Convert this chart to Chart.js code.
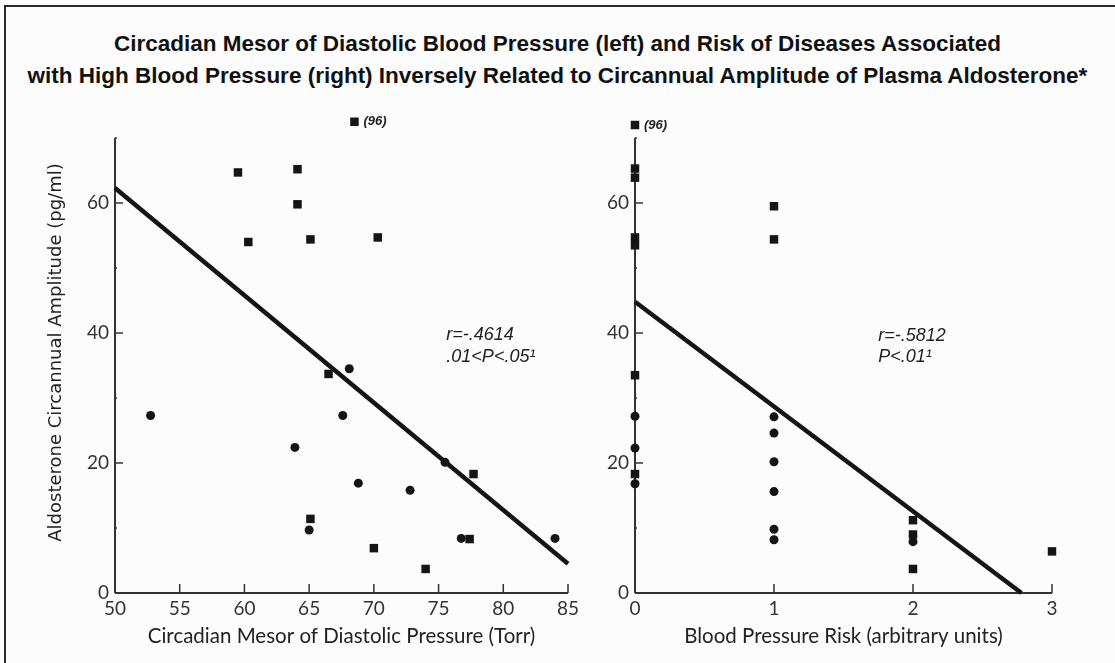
<!DOCTYPE html>
<html>
<head>
<meta charset="utf-8">
<script src="https://cdn.jsdelivr.net/npm/chart.js@4.4.1/dist/chart.umd.min.js"></script>
<style>
  html, body { margin: 0; padding: 0; background: #fcfcfc; }
  #page { position: relative; width: 1115px; height: 663px; overflow: hidden; background: #fcfcfc; }
  #frame { position: absolute; left: 4px; top: 5px; width: 1200px; height: 700px;
           border-top: 2px solid #2a2a2a; border-left: 2px solid #2a2a2a; }
  .title { position: absolute; left: 0; width: 1115px; text-align: center; color: #111;
           font: bold 22.5px 'Liberation Sans', Arial, sans-serif; }
  canvas { position: absolute; }
</style>
</head>
<body>
<div id="page">
  <div id="frame"></div>
  <div class="title" style="top:31px">Circadian Mesor of Diastolic Blood Pressure (left) and Risk of Diseases Associated</div>
  <div class="title" style="top:63px">with High Blood Pressure (right) Inversely Related to Circannual Amplitude of Plasma Aldosterone*</div>
  <canvas id="leftChart" width="590" height="563" style="left:0; top:100px"></canvas>
  <canvas id="rightChart" width="525" height="563" style="left:590px; top:100px"></canvas>
</div>
<script>
// left panel: diastolic mesor (Torr) vs aldosterone amplitude
const leftSquareX = [59.5, 64.1, 64.1, 60.3, 65.1, 70.3, 66.5, 65.1, 70.0, 74.0, 77.7, 77.4];
const leftSquareY = [64.7, 65.2, 59.8, 54.0, 54.4, 54.7, 33.7, 11.4, 6.9, 3.7, 18.3, 8.3];
const leftCircleX = [68.1, 52.75, 67.6, 63.9, 75.5, 68.8, 72.8, 65.0, 76.75, 84.0];
const leftCircleY = [34.5, 27.3, 27.3, 22.4, 20.1, 16.9, 15.8, 9.7, 8.4, 8.4];
const leftOutlier = { x: 68.5, y: 72.5, label: '(96)' };
const leftFitX = [50, 85];
const leftFitY = [62.3, 4.5];
const leftXTicks = [50, 55, 60, 65, 70, 75, 80, 85];

// right panel: blood pressure risk vs aldosterone amplitude
const rightSquareX = [0, 0, 0, 0, 0, 0, 1, 1, 2, 2, 2, 3];
const rightSquareY = [65.3, 63.9, 54.7, 53.5, 33.5, 18.3, 59.5, 54.4, 11.2, 9.0, 3.7, 6.4];
const rightCircleX = [0, 0, 0, 1, 1, 1, 1, 1, 1, 2];
const rightCircleY = [27.2, 22.3, 16.8, 27.1, 24.6, 20.2, 15.6, 9.8, 8.2, 7.9];
const rightOutlier = { x: 0, y: 72, label: '(96)' };
const rightFitX = [0, 2.78];
const rightFitY = [44.8, 0];
const rightXTicks = [0, 1, 2, 3];

const yTicks = [0, 10, 20, 30, 40, 50, 60, 70];
const yLabelled = [0, 20, 40, 60];

const leftNotes = [
  { x: 75.6, y: 39.7, text: 'r=-.4614' },
  { x: 75.6, y: 36.3, text: '.01<P<.05¹' }
];
const rightNotes = [
  { x: 1.75, y: 39.6, text: 'r=-.5812' },
  { x: 1.75, y: 36.3, text: 'P<.01¹' }
];

const ink = '#151515';
const tickFont = { family: "Lato, 'DejaVu Sans', sans-serif", size: 19 };

function pts(xs, ys) {
  return xs.map((x, i) => ({ x: x, y: ys[i] }));
}

// axis lines and inward tick marks, drawn through the chart's scales
const handAxes = {
  id: 'handAxes',
  beforeDatasetsDraw(chart, args, opts) {
    const ctx = chart.ctx;
    const xs = chart.scales.x, ys = chart.scales.y;
    const x0 = xs.getPixelForValue(xs.min);
    const y0 = ys.getPixelForValue(0);
    ctx.save();
    ctx.strokeStyle = '#333';
    ctx.lineWidth = 2;
    ctx.beginPath();
    ctx.moveTo(x0, y0);
    ctx.lineTo(x0, ys.getPixelForValue(opts.yTop));
    ctx.moveTo(x0, y0);
    ctx.lineTo(xs.getPixelForValue(xs.max), y0);
    ctx.stroke();
    ctx.lineWidth = 1.5;
    ctx.beginPath();
    opts.xTicks.forEach(v => {
      if (v === xs.min) return;
      const px = xs.getPixelForValue(v);
      ctx.moveTo(px, y0);
      ctx.lineTo(px, y0 - 9);
    });
    yTicks.forEach(v => {
      if (v === 0) return;
      const py = ys.getPixelForValue(v);
      const len = yLabelled.includes(v) ? 8 : 2;
      ctx.moveTo(x0, py);
      ctx.lineTo(x0 + len, py);
    });
    ctx.stroke();
    ctx.restore();
  },
  afterDraw(chart, args, opts) {
    const ctx = chart.ctx;
    const xs = chart.scales.x, ys = chart.scales.y;
    ctx.save();
    ctx.fillStyle = '#222';
    ctx.textBaseline = 'middle';
    ctx.textAlign = 'left';
    ctx.font = "italic 18px 'Liberation Sans', Arial, sans-serif";
    opts.notes.forEach(n => {
      ctx.fillText(n.text, xs.getPixelForValue(n.x), ys.getPixelForValue(n.y));
    });
    ctx.font = "italic bold 13px 'Liberation Sans', Arial, sans-serif";
    const o = opts.outlier;
    ctx.fillText(o.label, xs.getPixelForValue(o.x) + 9, ys.getPixelForValue(o.y));
    ctx.restore();
  }
};

function makeChart(id, cfg) {
  const ctx = document.getElementById(id).getContext('2d');
  return new Chart(ctx, {
    type: 'scatter',
    data: {
      datasets: [
        {
          data: pts(cfg.fitX, cfg.fitY),
          showLine: true,
          borderColor: ink,
          borderWidth: 4.5,
          pointRadius: 0,
          clip: false,
          order: 2
        },
        {
          data: pts(cfg.squareX, cfg.squareY).concat([{ x: cfg.outlier.x, y: cfg.outlier.y }]),
          pointStyle: 'rect',
          pointRadius: 6,
          backgroundColor: ink,
          borderColor: ink,
          borderWidth: 0,
          clip: false,
          order: 1
        },
        {
          data: pts(cfg.circleX, cfg.circleY),
          pointStyle: 'circle',
          pointRadius: 4.5,
          backgroundColor: ink,
          borderColor: ink,
          borderWidth: 0,
          clip: false,
          order: 1
        }
      ]
    },
    options: {
      responsive: false,
      animation: false,
      events: [],
      layout: { padding: cfg.padding },
      plugins: {
        legend: { display: false },
        tooltip: { enabled: false },
        handAxes: { yTop: 70, xTicks: cfg.xTicks, notes: cfg.notes, outlier: cfg.outlier }
      },
      scales: {
        x: {
          type: 'linear',
          min: cfg.xTicks[0],
          max: cfg.xTicks[cfg.xTicks.length - 1],
          grid: { display: false, drawTicks: false },
          border: { display: false },
          afterBuildTicks: s => { s.ticks = cfg.xTicks.map(v => ({ value: v })); },
          afterFit: s => { s.height = 70; s.paddingLeft = 0; s.paddingRight = 0; },
          ticks: { color: '#333', font: tickFont, padding: 4, maxRotation: 0, autoSkip: false },
          title: {
            display: true,
            text: cfg.xTitle,
            color: '#222',
            font: { family: "Lato, 'DejaVu Sans', sans-serif", size: 20.5 },
            padding: { top: 0, bottom: 14 }
          }
        },
        y: {
          type: 'linear',
          min: 0,
          max: 74,
          grid: { display: false, drawTicks: false },
          border: { display: false },
          afterBuildTicks: s => { s.ticks = yTicks.map(v => ({ value: v })); },
          afterFit: s => { s.width = cfg.yWidth; s.paddingTop = 0; s.paddingBottom = 0; },
          ticks: {
            color: '#333',
            font: tickFont,
            padding: 6,
            autoSkip: false,
            callback: v => (yLabelled.includes(v) ? String(v) : '')
          },
          title: {
            display: !!cfg.yTitle,
            text: cfg.yTitle || '',
            color: '#222',
            font: { family: "'DejaVu Sans', sans-serif", size: 18 },
            padding: { top: 16, bottom: 0 }
          }
        }
      }
    },
    plugins: [handAxes]
  });
}

makeChart('leftChart', {
  squareX: leftSquareX, squareY: leftSquareY,
  circleX: leftCircleX, circleY: leftCircleY,
  fitX: leftFitX, fitY: leftFitY,
  outlier: leftOutlier, notes: leftNotes, xTicks: leftXTicks,
  xTitle: 'Circadian Mesor of Diastolic Pressure (Torr)',
  yTitle: 'Aldosterone Circannual Amplitude (pg/ml)',
  yWidth: 85,
  padding: { left: 30, top: 12, right: 22, bottom: 0 }
});

makeChart('rightChart', {
  squareX: rightSquareX, squareY: rightSquareY,
  circleX: rightCircleX, circleY: rightCircleY,
  fitX: rightFitX, fitY: rightFitY,
  outlier: rightOutlier, notes: rightNotes, xTicks: rightXTicks,
  xTitle: 'Blood Pressure Risk (arbitrary units)',
  yTitle: '',
  yWidth: 45,
  padding: { left: 0, top: 12, right: 63, bottom: 0 }
});
</script>
</body>
</html>
